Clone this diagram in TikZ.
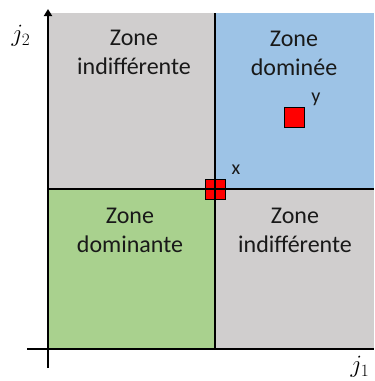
\documentclass[tikz,border=0pt]{standalone}
\usepackage{fontspec}
\setmainfont{Carlito}
\usetikzlibrary{arrows.meta}
\definecolor{zgray}{HTML}{D0CECE}
\definecolor{zblue}{HTML}{9DC3E6}
\definecolor{zgreen}{HTML}{A9D18E}
\tikzset{
  zonetext/.style={align=center, font=\fontsize{24}{29}\selectfont, text=black!90, inner sep=0pt},
  divider/.style={draw=black, line width=1.3pt},
  axis/.style={draw=black, line width=1.8pt},
  pointbox/.style={draw=black, fill=red, line width=1pt, minimum size=20pt, inner sep=0pt},
  ptlabel/.style={font=\fontsize{20}{22}\selectfont, text=black!90},
  axlabel/.style={font=\fontsize{23}{25}\selectfont}
}
\begin{document}
\begin{tikzpicture}[x=1pt,y=-1pt]
\useasboundingbox (0,0) rectangle (375,381);
\fill[zgray] (48,13) rectangle (215,189);
\fill[zblue] (215,13) rectangle (374,189);
\fill[zgreen] (48,189) rectangle (215,349);
\fill[zgray] (215,189) rectangle (374,349);
\node[pointbox] (x) at (215,189) {};
\node[pointbox] (y) at (294,117) {};
\draw[divider] (215,13) -- (215,349);
\draw[divider] (48,189) -- (374,189);
\draw[axis] (27,349) -- (374,349);
\draw[axis, -{Triangle[length=7pt,width=8pt]}] (48,368) -- (48,9);
\node[zonetext] (tl) at (134,52) {Zone\\indifférente};
\node[zonetext] (tr) at (294,53) {Zone\\dominée};
\node[zonetext] (bl) at (130,230) {Zone\\dominante};
\node[zonetext] (br) at (295,230) {Zone\\indifférente};
\node[ptlabel] (xl) at (236,170) {x};
\node[ptlabel] (yl) at (316,99) {y};
\node[axlabel] (j2) at (21,36) {$j_2$};
\node[axlabel] (j1) at (360,367) {$j_1$};
\end{tikzpicture}
\end{document}
